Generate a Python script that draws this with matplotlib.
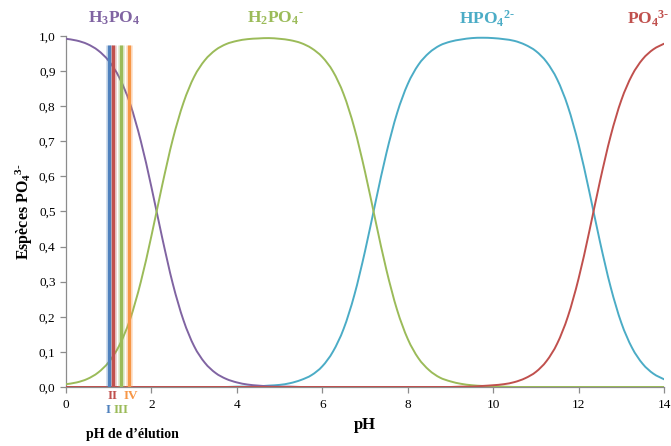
import matplotlib as mpl
import matplotlib.pyplot as plt
import numpy as np
from matplotlib.patches import PathPatch
from matplotlib.path import Path
from matplotlib.ticker import FuncFormatter

mpl.use('Agg')

# pH grid and species fractions
ph = [0.0, 0.25, 0.5, 0.75, 1.0, 1.25, 1.5, 1.75, 2.0, 2.25, 2.5, 2.75,
      3.0, 3.25, 3.5, 3.75, 4.0, 4.25, 4.5, 4.75, 5.0, 5.25, 5.5, 5.75,
      6.0, 6.25, 6.5, 6.75, 7.0, 7.25, 7.5, 7.75, 8.0, 8.25, 8.5, 8.75,
      9.0, 9.25, 9.5, 9.75, 10.0, 10.25, 10.5, 10.75, 11.0, 11.25, 11.5,
      11.75, 12.0, 12.25, 12.5, 12.75, 13.0, 13.25, 13.5, 13.75, 14.0]

h3po4 = [0.992, 0.987, 0.977, 0.959, 0.929, 0.881, 0.807, 0.701, 0.569,
         0.426, 0.294, 0.190, 0.116, 0.069, 0.040, 0.023, 0.013, 0.007,
         0.004, 0.002, 0.001, 0.001, 0.0, 0.0, 0.0, 0.0, 0.0, 0.0, 0.0,
         0.0, 0.0, 0.0, 0.0, 0.0, 0.0, 0.0, 0.0, 0.0, 0.0, 0.0, 0.0, 0.0,
         0.0, 0.0, 0.0, 0.0, 0.0, 0.0, 0.0, 0.0, 0.0, 0.0, 0.0, 0.0, 0.0,
         0.0, 0.0]

h2po4 = [0.008, 0.013, 0.023, 0.041, 0.071, 0.119, 0.193, 0.299, 0.431,
         0.574, 0.706, 0.810, 0.884, 0.931, 0.960, 0.977, 0.986, 0.991,
         0.993, 0.994, 0.992, 0.988, 0.980, 0.965, 0.940, 0.899, 0.834,
         0.738, 0.613, 0.471, 0.334, 0.220, 0.137, 0.082, 0.048, 0.027,
         0.016, 0.009, 0.005, 0.003, 0.002, 0.001, 0.0, 0.0, 0.0, 0.0,
         0.0, 0.0, 0.0, 0.0, 0.0, 0.0, 0.0, 0.0, 0.0, 0.0, 0.0]

hpo4 = [0.0, 0.0, 0.0, 0.0, 0.0, 0.0, 0.0, 0.0, 0.0, 0.0, 0.0, 0.0,
        0.0, 0.0, 0.0, 0.0, 0.001, 0.001, 0.002, 0.004, 0.006, 0.011,
        0.020, 0.034, 0.059, 0.101, 0.166, 0.262, 0.387, 0.529, 0.666,
        0.780, 0.863, 0.918, 0.952, 0.973, 0.984, 0.990, 0.994, 0.995,
        0.994, 0.991, 0.986, 0.975, 0.957, 0.926, 0.876, 0.799, 0.691,
        0.557, 0.414, 0.285, 0.183, 0.112, 0.066, 0.038, 0.022]

po4 = [0.0, 0.0, 0.0, 0.0, 0.0, 0.0, 0.0, 0.0, 0.0, 0.0, 0.0, 0.0, 0.0,
       0.0, 0.0, 0.0, 0.0, 0.0, 0.0, 0.0, 0.0, 0.0, 0.0, 0.0, 0.0, 0.0,
       0.0, 0.0, 0.0, 0.0, 0.0, 0.0, 0.0, 0.0, 0.0, 0.0, 0.0, 0.001,
       0.001, 0.003, 0.005, 0.008, 0.014, 0.025, 0.043, 0.074, 0.124,
       0.201, 0.309, 0.443, 0.586, 0.715, 0.817, 0.888, 0.934, 0.962,
       0.978]

# elution pH markers
elution_ph = [1.0, 1.11, 1.29, 1.47]
elution_names = ['I', 'II', 'III', 'IV']
elution_top = 0.975

C_PURPLE = '#8064A2'
C_GREEN = '#9BBB59'
C_CYAN = '#4BACC6'
C_RED = '#C0504D'
C_BLUE = '#4F81BD'
C_ORANGE = '#F79646'

plt.rcParams['font.family'] = ['Liberation Serif', 'DejaVu Serif']
plt.rcParams['mathtext.fontset'] = 'custom'
plt.rcParams['mathtext.rm'] = 'Liberation Serif'
plt.rcParams['mathtext.it'] = 'Liberation Serif:italic'
plt.rcParams['mathtext.bf'] = 'Liberation Serif:bold'


def smooth_line(ax, x, y, color, lw, zorder):
    # smoothed line like a spreadsheet chart (Catmull-Rom as Bezier)
    pts = np.column_stack([x, y])
    n = len(pts)
    verts = [pts[0]]
    codes = [Path.MOVETO]
    for i in range(n - 1):
        p0 = pts[i - 1] if i > 0 else pts[i]
        p1 = pts[i]
        p2 = pts[i + 1]
        p3 = pts[i + 2] if i + 2 < n else pts[i + 1]
        verts += [p1 + (p2 - p0) / 6, p2 - (p3 - p1) / 6, p2]
        codes += [Path.CURVE4] * 3
    patch = PathPatch(Path(verts, codes), facecolor='none', edgecolor=color,
                      lw=lw, zorder=zorder, capstyle='round')
    ax.add_patch(patch)


fig = plt.figure(figsize=(6.71, 4.46), dpi=100)
ax = fig.add_axes([0.0984, 0.1323, 0.8912, 0.787])

smooth_line(ax, ph, h3po4, C_PURPLE, 1.4, 3)
smooth_line(ax, ph, h2po4, C_GREEN, 1.4, 3)
smooth_line(ax, ph, hpo4, C_CYAN, 1.4, 2)
smooth_line(ax, ph, po4, C_RED, 1.4, 3)

line_colors = [C_BLUE, C_RED, C_GREEN, C_ORANGE]
for x, c in zip(elution_ph, line_colors):
    ax.plot([x, x], [0, elution_top], color=c, lw=5, alpha=0.25,
            solid_capstyle='butt', zorder=4)
    ax.plot([x, x], [0, elution_top], color=c, lw=2.4,
            solid_capstyle='butt', zorder=5)

ax.set_xlim(0, 14)
ax.set_ylim(0, 1.0)
ax.set_xticks(range(0, 15, 2))
ax.set_yticks([i / 10 for i in range(11)])
ax.yaxis.set_major_formatter(
    FuncFormatter(lambda v, p: ('%.1f' % v).replace('.', ',')))

for s in ['top', 'right']:
    ax.spines[s].set_visible(False)
for s in ['left', 'bottom']:
    ax.spines[s].set_color('#8C8C8C')
    ax.spines[s].set_linewidth(0.9)
ax.tick_params(axis='both', colors='#8C8C8C', labelcolor='black',
               labelsize=9.5, length=4, width=0.9, direction='out')
ax.tick_params(axis='x', pad=5)

ax.set_xlabel('pH', fontsize=12, fontweight='bold')
ax.xaxis.set_label_coords(0.5, -0.085)
ax.set_ylabel(r'Espèces PO$_\mathbf{4}{}^\mathbf{3\text{-}}$',
              fontsize=11.5, fontweight='bold', labelpad=3)

# species names above the curves
tkw = dict(fontsize=12.5, ha='center', va='center', clip_on=False)
ax.text(1.12, 1.05, r'$\mathbf{H_3PO_4}$', color=C_PURPLE, **tkw)
ax.text(4.9, 1.05, r'$\mathbf{H_2PO_4{}^{\text{-}}}$', color=C_GREEN,
        **tkw)
ax.text(9.86, 1.05, r'$\mathbf{HPO_4{}^{2\text{-}}}$', color=C_CYAN,
        **tkw)
ax.text(13.63, 1.05, r'$\mathbf{PO_4{}^{3\text{-}}}$', color=C_RED, **tkw)

# roman numerals under the elution lines
lkw = dict(fontsize=9.5, fontweight='bold', ha='center', va='center',
           clip_on=False)
ax.text(0.98, -0.065, 'I', color=C_BLUE, **lkw)
ax.text(1.08, -0.025, 'II', color=C_RED, **lkw)
ax.text(1.28, -0.065, 'III', color=C_GREEN, **lkw)
ax.text(1.53, -0.025, 'IV', color=C_ORANGE, **lkw)
ax.text(1.55, -0.135, 'pH de d\u2019élution', fontsize=10,
        fontweight='bold', ha='center', va='center', clip_on=False)

plt.savefig('out.png', dpi=100)
